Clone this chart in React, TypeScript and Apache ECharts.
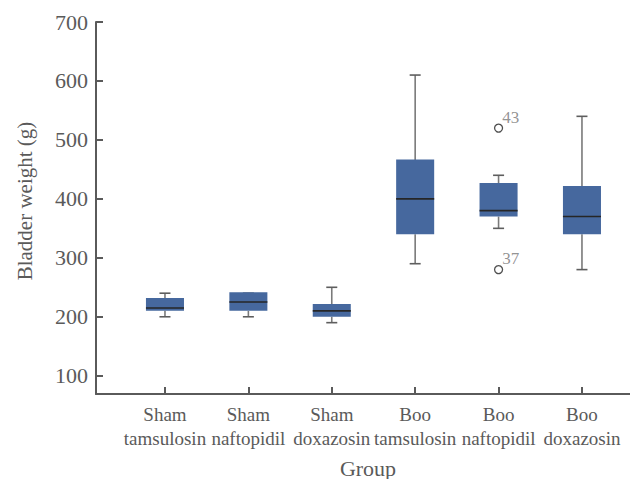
import React, { useEffect, useRef } from "react";
import * as echarts from "echarts";

const categories = [
  "Sham\ntamsulosin",
  "Sham\nnaftopidil",
  "Sham\ndoxazosin",
  "Boo\ntamsulosin",
  "Boo\nnaftopidil",
  "Boo\ndoxazosin",
];
const groupPositions = [1, 2, 3, 4, 5, 6];
const whiskerLow = [200, 200, 190, 290, 350, 280];
const q1 = [210, 210, 200, 340, 370, 340];
const median = [215, 225, 210, 400, 380, 370];
const q3 = [230, 240, 220, 465, 425, 420];
const whiskerHigh = [240, 240, 250, 610, 440, 540];

const outlierGroup = [5, 5];
const outlierValue = [520, 280];
const outlierLabel = ["43", "37"];

const yTicks = [100, 200, 300, 400, 500, 600, 700];

const FONT = "Liberation Serif";
const TEXT = "#5a5a5a";
const AXIS = "#5a5a5a";

export default function App() {
  const ref = useRef<HTMLDivElement>(null);
  useEffect(() => {
    document.body.style.margin = "0";
    const chart = echarts.init(ref.current!, null, { renderer: "svg" });
    const boxData = groupPositions.map((p, i) => [
      p,
      whiskerLow[i],
      q1[i],
      median[i],
      q3[i],
      whiskerHigh[i],
    ]);
    const outlierData = outlierGroup.map((g, i) => [g, outlierValue[i]]);
    chart.setOption({
      animation: false,
      textStyle: { fontFamily: FONT },
      grid: {
        left: 96,
        top: 22,
        right: 0,
        bottom: 85,
        containLabel: false,
        outerBoundsMode: "none",
      },
      xAxis: {
        type: "value",
        min: 0.173,
        max: 6.576,
        name: "Group",
        nameLocation: "middle",
        nameGap: 63,
        nameTextStyle: {
          fontFamily: FONT,
          fontSize: 22,
          color: TEXT,
          padding: [0, 0, 0, 10],
        },
        axisLine: { show: true, lineStyle: { color: AXIS, width: 2 } },
        axisTick: {
          show: true,
          inside: true,
          length: 7,
          customValues: groupPositions,
          lineStyle: { color: AXIS, width: 2 },
        },
        axisLabel: {
          customValues: groupPositions,
          formatter: (v: number) => categories[Math.round(v) - 1] ?? "",
          fontFamily: FONT,
          fontSize: 19,
          lineHeight: 24,
          color: TEXT,
          margin: 8,
        },
        splitLine: { show: false },
      },
      yAxis: {
        type: "value",
        min: 69,
        max: 700,
        name: "Bladder weight (g)",
        nameLocation: "middle",
        nameGap: 61,
        nameTextStyle: {
          fontFamily: FONT,
          fontSize: 21,
          color: TEXT,
          padding: [0, 0, 0, 14],
        },
        axisLine: { show: true, lineStyle: { color: AXIS, width: 2 } },
        axisTick: {
          show: true,
          inside: true,
          length: 7,
          customValues: yTicks,
          lineStyle: { color: AXIS, width: 2 },
        },
        axisLabel: {
          customValues: yTicks,
          fontFamily: FONT,
          fontSize: 22,
          color: TEXT,
          margin: 8,
        },
        splitLine: { show: false },
      },
      series: [
        {
          type: "custom",
          data: boxData,
          encode: { x: 0, y: [1, 2, 3, 4, 5] },
          renderItem: (params: any, api: any) => {
            const x = api.value(0);
            const band = api.size([1, 0])[0];
            const halfBox = band * 0.228;
            const halfCap = band * 0.066;
            const pLow = api.coord([x, api.value(1)]);
            const pQ1 = api.coord([x, api.value(2)]);
            const pMed = api.coord([x, api.value(3)]);
            const pQ3 = api.coord([x, api.value(4)]);
            const pHigh = api.coord([x, api.value(5)]);
            const cx = pMed[0];
            const whiskerStyle = { stroke: "#7a7a7a", lineWidth: 1.6 };
            const capStyle = { stroke: "#5e5e5e", lineWidth: 1.6 };
            return {
              type: "group",
              children: [
                {
                  type: "line",
                  shape: { x1: cx, y1: pHigh[1], x2: cx, y2: pQ3[1] },
                  style: whiskerStyle,
                },
                {
                  type: "line",
                  shape: { x1: cx, y1: pQ1[1], x2: cx, y2: pLow[1] },
                  style: whiskerStyle,
                },
                {
                  type: "line",
                  shape: { x1: cx - halfCap, y1: pHigh[1], x2: cx + halfCap, y2: pHigh[1] },
                  style: capStyle,
                },
                {
                  type: "line",
                  shape: { x1: cx - halfCap, y1: pLow[1], x2: cx + halfCap, y2: pLow[1] },
                  style: capStyle,
                },
                {
                  type: "rect",
                  shape: {
                    x: cx - halfBox,
                    y: pQ3[1] - 1,
                    width: halfBox * 2,
                    height: pQ1[1] - pQ3[1] + 1,
                  },
                  style: { fill: "#46689e", stroke: "none" },
                },
                {
                  type: "line",
                  shape: { x1: cx - halfBox, y1: pMed[1], x2: cx + halfBox, y2: pMed[1] },
                  style: { stroke: "#262626", lineWidth: 1.6 },
                },
              ],
            };
          },
        },
        {
          type: "scatter",
          data: outlierData,
          symbol: "circle",
          symbolSize: 8,
          itemStyle: { color: "#ffffff", borderColor: "#222222", borderWidth: 1.3 },
          label: {
            show: true,
            position: "right",
            distance: 0,
            offset: [-1, -11],
            formatter: (p: any) => outlierLabel[p.dataIndex],
            fontFamily: FONT,
            fontSize: 17,
            color: "#777777",
          },
        },
      ],
    });
    return () => chart.dispose();
  }, []);
  return <div ref={ref} style={{ width: 630, height: 479 }} />;
}
